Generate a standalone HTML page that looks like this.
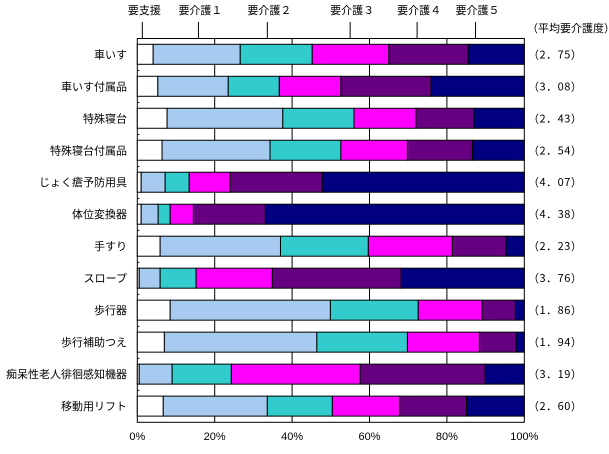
<!DOCTYPE html>
<html><head><meta charset="utf-8"><style>
body{margin:0;background:#fff;width:609px;height:449px;overflow:hidden}
svg text{font-family:"Liberation Sans","Noto Sans CJK JP",sans-serif;font-size:11px;fill:#000}
svg text.avg{font-family:"Noto Sans CJK JP",sans-serif;letter-spacing:0.5px}
</style></head><body>
<svg id="c" width="609" height="449"></svg>
<script>
const categories=["車いす","車いす付属品","特殊寝台","特殊寝台付属品","じょく瘡予防用具","体位変換器","手すり","スロープ","歩行器","歩行補助つえ","痴呆性老人徘徊感知機器","移動用リフト"];
const seriesNames=["要支援","要介護１","要介護２","要介護３","要介護４","要介護５"];
const s0=[4.1,5.3,7.7,6.4,1.0,1.0,5.9,0.5,8.5,7.0,0.5,6.7];
const s1=[22.5,18.2,29.9,27.9,6.2,4.4,31.1,5.4,41.4,39.4,8.5,26.9];
const s2=[18.6,13.2,18.4,18.3,6.2,3.1,22.7,9.3,22.7,23.4,15.3,16.8];
const s3=[19.8,15.9,16.0,17.2,10.6,6.0,21.7,19.7,16.5,18.6,33.3,17.4];
const s4=[20.5,23.3,15.0,16.8,23.8,18.6,13.9,33.3,8.6,9.5,32.3,17.3];
const s5=[14.5,24.1,13.0,13.4,52.2,66.9,4.7,31.8,2.3,2.1,10.1,14.9];
const averages=["2.75","3.08","2.43","2.54","4.07","4.38","2.23","3.76","1.86","1.94","3.19","2.60"];
const xTicks=[0,20,40,60,80,100];
const legendPos=[1.3,15.8,33.6,55.0,72.3,87.4];
const colors=["#ffffff","#a6caf0","#33cccc","#ff00ff","#660080","#000080"];
const series=[s0,s1,s2,s3,s4,s5];
const X0=137.3,X1=524.3,Y0=38.5,Y1=422.3;
const xs=v=>X0+(X1-X0)*v/100;
const rowH=(Y1-Y0)/categories.length;
const ys=i=>Y0+i*rowH;
const svg=document.getElementById('c');
const NS='http://www.w3.org/2000/svg';
function mk(tag,at,parent){const e=document.createElementNS(NS,tag);for(const k in at)e.setAttribute(k,at[k]);(parent||svg).appendChild(e);return e;}
let e=mk('rect',{x:X0,y:Y0,width:X1-X0,height:Y1-Y0,fill:'#fff',stroke:'#000','stroke-width':1});


xTicks.forEach(t=>{
 if(t>0&&t<100){let g=mk('line',{x1:xs(t),x2:xs(t),y1:Y0,y2:Y1,stroke:'#000'});
 
 }
 let tx=mk('text',{x:xs(t),y:440,'text-anchor':'middle'});tx.textContent=t+'%';
 
 
});
categories.forEach((c,i)=>{
 const by=ys(i)+5.8;let cum=0;
 let tk=mk('line',{x1:X0,x2:X0+2,y1:ys(i),y2:ys(i),stroke:'#000'});
 
 
 series.forEach((s,j)=>{
  const r=mk('rect',{x:xs(cum),y:by,width:xs(cum+s[i])-xs(cum),height:20,fill:colors[j],stroke:'#000','stroke-width':1});
  
  
  cum+=s[i];
 });
 let l=mk('text',{x:127,y:by+14,'text-anchor':'end'});l.textContent=c;
 
 
 let a=mk('text',{x:528,y:by+14,'class':'avg'});a.textContent='（'+averages[i].replace('.','．')+'）';
 
 
});
legendPos.forEach((p,j)=>{
 let ln=mk('line',{x1:xs(p),x2:xs(p),y1:22,y2:Y0,stroke:'#000'});
 
 
 let t=mk('text',{x:xs(p)+2,y:14,'text-anchor':'middle'});t.textContent=seriesNames[j];
 
 
});
let h=mk('text',{x:527,y:32});h.textContent='（平均要介護度）';


</script>
</body></html>
